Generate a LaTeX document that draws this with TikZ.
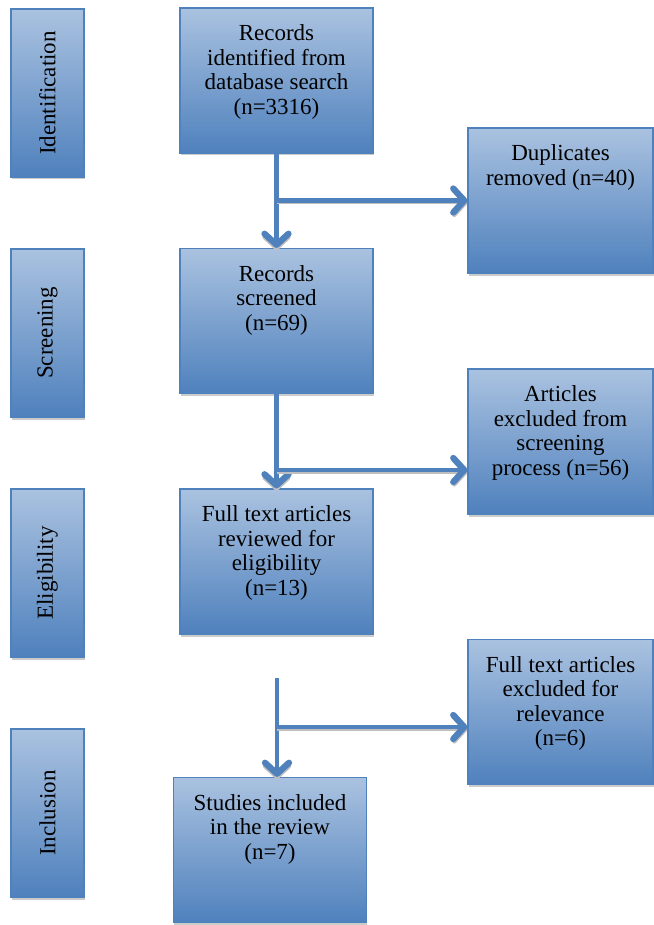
\documentclass[tikz,border=0pt]{standalone}
\usepackage{fontspec}
\setmainfont{Liberation Serif}
\usepackage{xcolor}
\definecolor{Steel Blue}{HTML}{4F81BD}
\definecolor{Pale Blue}{HTML}{AAC2E0}
\colorlet{cEdge}{Steel Blue}
\colorlet{cTop}{Pale Blue}
\colorlet{cBottom}{Steel Blue}
\usepackage{tikz}
\usetikzlibrary{positioning, arrows.meta, shadows}
\tikzset{
	line width = .75pt,
	font = \rmfamily\fontsize{23}{24.5}\selectfont,
	panel/.style={
		rectangle,
		draw=cEdge,
		line width=1.2pt,
		top color=cTop,
		bottom color=cBottom,
		inner sep=0pt,
		drop shadow={shadow xshift=.5pt, shadow yshift=-2.5pt, fill=black!45, opacity=.45}
	},
	stage box/.style={
		panel,
		minimum width=73pt,
		minimum height=168pt
	},
	main box/.style={
		panel,
		minimum width=193pt,
		minimum height=145pt
	},
	side box/.style={
		panel,
		minimum width=185pt,
		minimum height=145pt
	},
	box text/.style={
		anchor=north,
		align=center,
		inner sep=0pt
	},
	flow/.style={
		draw=cEdge,
		line width=4.5pt,
		preaction={draw=black!25, line width=3pt, transform canvas={yshift=-2.5pt}},
		-{Straight Barb[length=11pt, width=24pt, line width=0pt 1.4, round]}
	}
}

\begin{document}
\begin{tikzpicture}[x=1pt, y=-1pt]
\useasboundingbox (0,0) rectangle (653,925);

% ---
% Stages on the left
% ---
\node[stage box] (ident) at (47.5,93) {\rotatebox{90}{Identification}};
\node[stage box] (screening) at (47.5,333) {\rotatebox{90}{Screening}};
\node[stage box] (eligibility) at (47.5,573) {\rotatebox{90}{Eligibility}};
\node[stage box] (inclusion) at (47.5,813) {\rotatebox{90}{Inclusion}};

% ---
% Main flow
% ---
\node[main box] (records) at (276.5,80.5) {};
\node[main box] (screened) at (276.5,321) {};
\node[main box] (fulltext) at (276.5,561.5) {};
\node[main box] (included) at (270,850) {};

\node[box text, below=17pt of records.north] (recordsT) {Records\\identified from\\database search\\(n=3316)};
\node[box text, below=17pt of screened.north] (screenedT) {Records\\screened\\(n=69)};
\node[box text, below=17pt of fulltext.north] (fulltextT) {Full text articles\\reviewed for\\eligibility\\(n=13)};
\node[box text, below=17pt of included.north] (includedT) {Studies included\\in the review\\(n=7)};

% ---
% Exclusions on the right
% ---
\node[side box] (duplicates) at (560.5,200.5) {};
\node[side box] (excluded) at (560.5,441.5) {};
\node[side box] (irrelevant) at (560.5,712) {};

\node[box text, below=17pt of duplicates.north] (duplicatesT) {Duplicates\\removed (n=40)};
\node[box text, below=17pt of excluded.north] (excludedT) {Articles\\excluded from\\screening\\process (n=56)};
\node[box text, below=17pt of irrelevant.north] (irrelevantT) {Full text articles\\excluded for\\relevance\\(n=6)};

% ---
% Arrows
% ---
\coordinate (split1) at (277,200.5);
\coordinate (split2) at (277,470);
\coordinate (start3) at (277,678);
\coordinate (split3) at (277,727);

\draw[flow] (records.south) to (screened.north);
\draw[flow] (split1) to (duplicates.west);

\draw[flow] (screened.south) to (fulltext.north);
\draw[flow] (split2) to (excluded.west |- split2);

\draw[flow] (start3) to (start3 |- included.north);
\draw[flow] (split3) to (irrelevant.west |- split3);

\end{tikzpicture}
\end{document}
